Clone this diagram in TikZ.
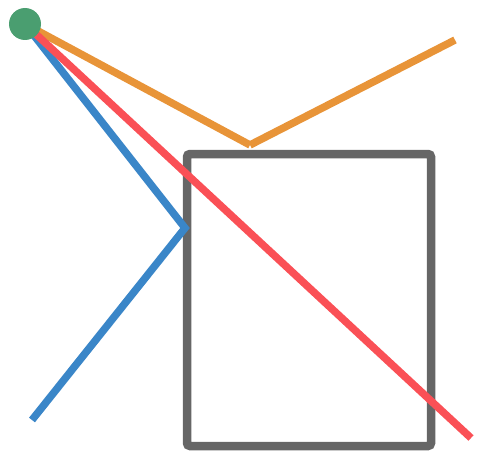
\documentclass[tikz,border=0pt]{standalone}
\usepackage{tikz}
\usetikzlibrary{positioning, calc}
\definecolor{hubgreen}{RGB}{74,158,112}
\definecolor{rayorange}{RGB}{232,148,56}
\definecolor{rayblue}{RGB}{58,134,200}
\definecolor{rayred}{RGB}{250,80,86}
\definecolor{boxgray}{RGB}{102,102,102}
\begin{document}
\begin{tikzpicture}[x=1pt, y=-1pt,
    ray/.style={line width=7.5pt, line cap=butt, line join=miter},
    frame/.style={draw=boxgray, line width=8.5pt, rounded corners=3pt},
    hub/.style={circle, fill=hubgreen, inner sep=0pt, minimum size=32pt}]
    \useasboundingbox (0,0) rectangle (477,452);
    % frame
    \draw [frame] (187,154) rectangle (431,446);
    % ray ends
    \coordinate (start) at (25,24);
    \coordinate (orangebend) at (250,145);
    \coordinate (orangeend) at (455,40);
    \coordinate (bluebend) at (185,228);
    \coordinate (blueend) at (32,420);
    \coordinate (redend) at (471,438);
    % rays
    \draw [ray, rayorange] (start) -- (orangebend);
    \draw [ray, rayorange] (orangebend) -- (orangeend);
    \draw [ray, rayblue] (start) -- (bluebend) -- (blueend);
    \draw [ray, rayred] (start) -- (redend);
    \node [hub] (origin) at (start) {};
\end{tikzpicture}
\end{document}
